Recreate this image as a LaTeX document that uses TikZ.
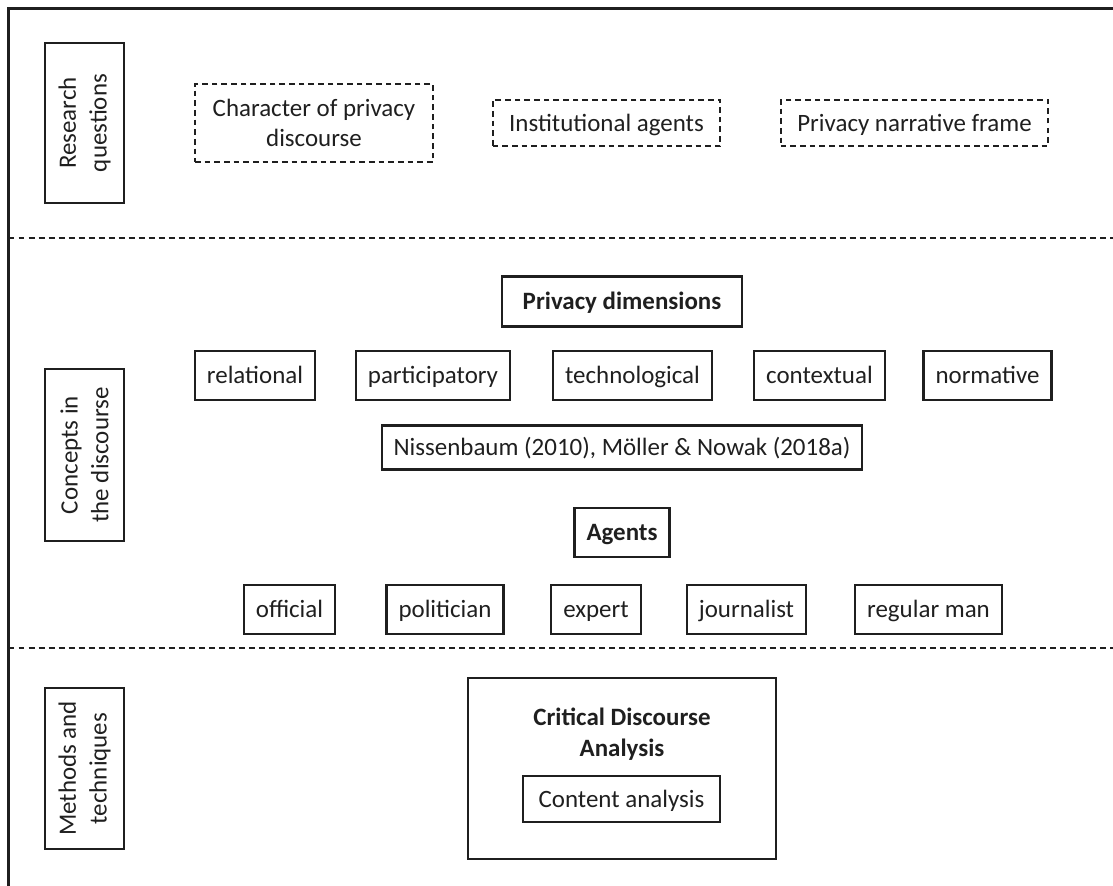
\documentclass[tikz,border=0pt]{standalone}
\usepackage{fontspec}
\setmainfont{Carlito}
\usepackage{tikz}

\colorlet{ink}{black!88}
\newcommand{\diagfont}{\fontsize{14.2}{17.5}\selectfont}
\tikzset{
  oneline/.style={text height=11.5pt, text depth=2pt},
  rowlabel/.style={draw=ink, text=ink, line width=1.2pt, rotate=90, align=center,
    minimum height=1.58cm, inner sep=0pt},
  question/.style={draw=ink, text=ink, line width=1.3pt, dash pattern=on 3.2pt off 2.3pt,
    align=center, inner xsep=0.33cm, minimum height=0.92cm},
  concept/.style={draw=ink, text=ink, line width=1.2pt, oneline, inner xsep=0.24cm, minimum height=0.98cm},
  heading/.style={concept, font=\diagfont\bfseries},
  sepline/.style={draw=ink, line width=1.2pt, dash pattern=on 3.4pt off 2.3pt}
}

\begin{document}
\begin{tikzpicture}[x=0.02cm, y=-0.02cm, font=\diagfont]

        \useasboundingbox (0,0) rectangle (1113,886);

        % Frame and section borders
        \draw[draw=ink, line width=1.3pt] (1113,8.5) -- (8.5,8.5) -- (8.5,886);
        \draw[sepline] (8.5,238) -- (1113,238);
        \draw[sepline] (8.5,648) -- (1113,648);

        % Research questions
        \node[rowlabel, minimum width=3.2cm] (rq) at (84.5,123) {Research\\questions};
        \node[question, minimum width=4.76cm, minimum height=1.56cm] (character) at (314,123)
            {Character of privacy\\discourse};
        \node[question, oneline] (institutional) at (606.5,123) {Institutional agents};
        \node[question, oneline] (narrative) at (914.5,123) {Privacy narrative frame};

        % Concepts in the discourse
        \node[rowlabel, minimum width=3.44cm] (concepts) at (84.5,455) {Concepts in\\the discourse};
        \node[heading, minimum height=1cm, inner xsep=0.42cm] (dimensions) at (622,301.5)
            {Privacy dimensions};
        \node[concept] (relational) at (255,375.5) {relational};
        \node[concept] (participatory) at (433,375.5) {participatory};
        \node[concept] (technological) at (632.5,375.5) {technological};
        \node[concept] (contextual) at (819.5,375.5) {contextual};
        \node[concept] (normative) at (987.5,375.5) {normative};
        \node[concept, minimum height=0.88cm] (sources) at (622,447.5)
            {Nissenbaum (2010), Möller \& Nowak (2018a)};
        \node[heading] (agents) at (622,532.5) {Agents};
        \node[concept] (official) at (289.5,609.5) {official};
        \node[concept] (politician) at (445,609.5) {politician};
        \node[concept] (expert) at (596,609.5) {expert};
        \node[concept] (journalist) at (746.5,609.5) {journalist};
        \node[concept] (regular) at (928.5,609.5) {regular man};

        % Methods and techniques
        \node[rowlabel, minimum width=3.22cm] (methods) at (84.5,768.5) {Methods and\\techniques};
        \node[draw=ink, line width=1.2pt, minimum width=6.16cm, minimum height=3.62cm] (cda)
            at (622,768.5) {};
        \node[text=ink, align=center, font=\fontsize{14.2}{18}\selectfont\bfseries] (cdatitle)
            at (622,734) {Critical Discourse\\Analysis};
        \node[concept, minimum width=3.94cm, minimum height=0.92cm] (content) at (621.5,799)
            {Content analysis};

\end{tikzpicture}
\end{document}
